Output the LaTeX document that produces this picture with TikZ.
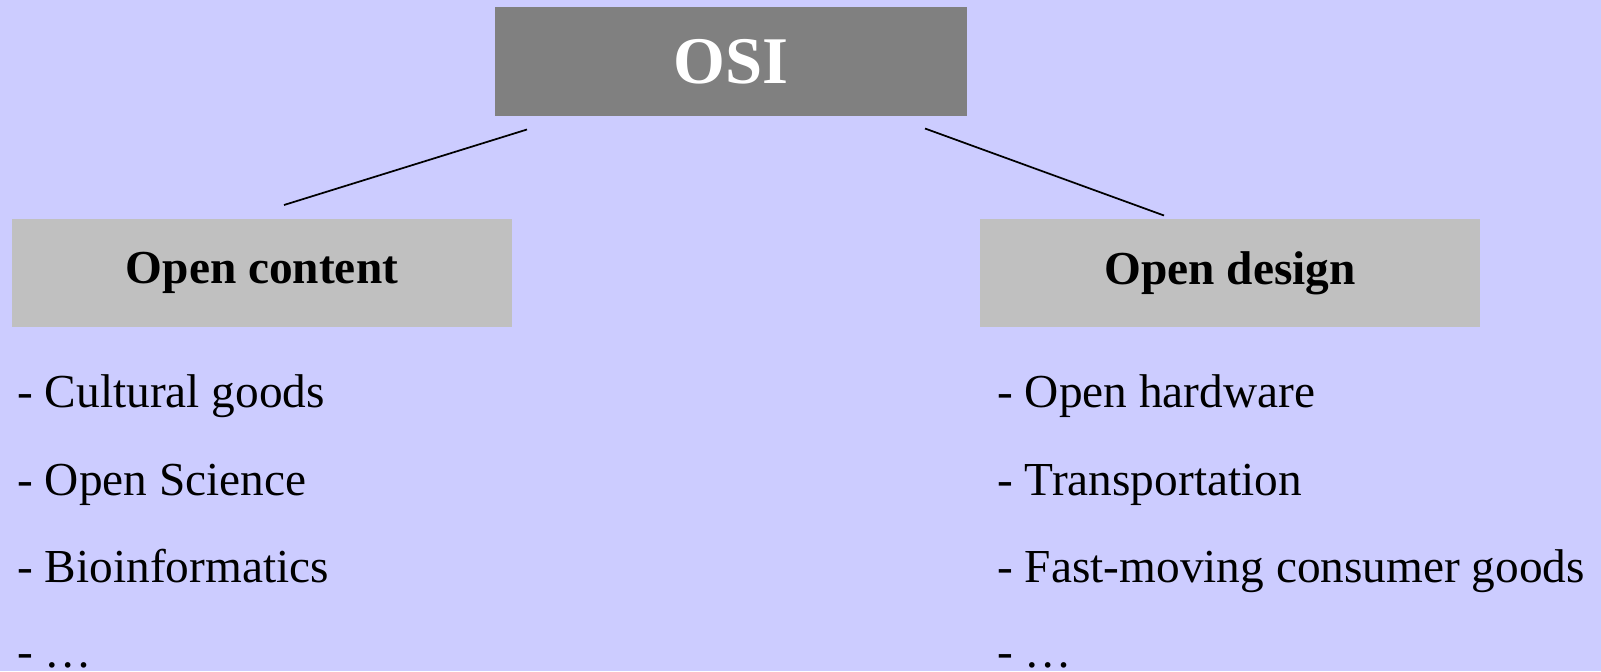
\documentclass[tikz,border=0pt]{standalone}
\usepackage{fontspec}
\setmainfont{Liberation Serif}
\usetikzlibrary{positioning}
\definecolor{hintergrund}{HTML}{CCCCFF}
\definecolor{dunkelgrau}{HTML}{808080}
\definecolor{hellgrau}{HTML}{C0C0C0}
\tikzset{
    %Define style for the top box
    kopf/.style={
           rectangle,
           fill=dunkelgrau,
           text=white,
           inner sep=0pt,
           minimum width=354pt,
           minimum height=81.75pt,
           font=\fontsize{50}{56}\selectfont\bfseries},
    %Define style for the two category boxes
    kategorie/.style={
           rectangle,
           fill=hellgrau,
           inner sep=0pt,
           minimum width=374.5pt,
           minimum height=80.4pt,
           font=\fontsize{35.5}{40}\selectfont\bfseries},
    %Define style for list lines
    eintrag/.style={
           anchor=base west,
           inner sep=0pt,
           font=\fontsize{35.5}{40}\selectfont},
    % Define line style
    linie/.style={
           line width=1.3pt,
           black}
}
\begin{document}
\begin{tikzpicture}[x=0.75pt,y=-0.75pt]
 %background
\fill[hintergrund] (0,0) rectangle (1601,671);
\useasboundingbox (0,0) rectangle (1601,671);

 %nodes
\node[kopf](osi) at (731,61.5){OSI};
\node[kategorie](content) at (262,273){Open content};
\node[kategorie](design) at (1230,273){Open design};

\node[eintrag](c1) at (17,407){- Cultural goods};
\node[eintrag](c2) at (17,495){- Open Science};
\node[eintrag](c3) at (17,582){- Bioinformatics};
\node[eintrag](c4) at (17,667){- …};

\node[eintrag](d1) at (997,407){- Open hardware};
\node[eintrag](d2) at (997,495){- Transportation};
\node[eintrag](d3) at (997,582){- Fast-moving consumer goods};
\node[eintrag](d4) at (997,667){- …};

 %line ends
\coordinate (osil) at (527,129.5);
\coordinate (contentt) at (284,205);
\coordinate (osir) at (925,128.5);
\coordinate (designt) at (1164,215.5);

\draw[linie] (osil) -- (contentt);
\draw[linie] (osir) -- (designt);

\end{tikzpicture}
\end{document}
